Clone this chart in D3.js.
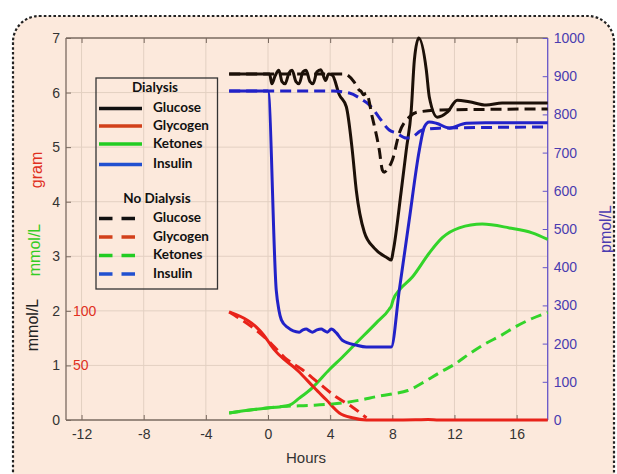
<!DOCTYPE html>
<html>
<head>
<meta charset="utf-8">
<script src="https://cdn.jsdelivr.net/npm/d3@7"></script>
<style>
  body { margin: 0; background: #fff; }
  svg { display: block; }
</style>
</head>
<body>
<svg id="chart" width="617" height="474"></svg>
<script>
// hours, value pairs
const glucoseDial = [[-2.5,6.34],[0.1,6.34],[0.25,6.16],[0.45,6.3],[0.7,6.41],[0.9,6.2],[1.1,6.16],[1.35,6.36],[1.55,6.41],[1.8,6.2],[2.0,6.16],[2.25,6.38],[2.45,6.41],[2.7,6.2],[2.9,6.16],[3.15,6.38],[3.4,6.42],[3.7,6.22],[3.9,6.34],[4.14,6.32],[4.59,5.96],[5.04,5.74],[5.42,4.95],[5.68,4.21],[6.2,3.44],[6.84,3.15],[7.68,2.97],[7.93,2.93],[8.06,3.1],[8.58,4.21],[8.9,4.95],[9.22,5.68],[9.42,6.6],[9.7,7.0],[10.19,6.41],[10.38,5.92],[10.9,5.55],[11.54,5.64],[12.18,5.86],[12.95,5.83],[14.04,5.77],[15.07,5.81],[18,5.81]]
const glucoseNoDial = [[-2.5,6.34],[4.9,6.34],[5.55,6.19],[5.85,6.05],[6.0,6.02],[6.15,5.96],[6.33,5.99],[6.71,5.55],[7.16,4.95],[7.36,4.58],[7.48,4.54],[7.7,4.6],[8.0,4.76],[8.45,5.26],[9.09,5.55],[9.6,5.64],[11.15,5.68],[18,5.7]]
// glycogen in grams
const glycogenDial = [[-2.5,99],[-0.05,73.5],[0.18,68.5],[2.01,44],[2.98,29.5],[3.75,18.5],[4.59,6.5],[5.42,2],[6.33,0],[9.5,0.2],[10.3,0.4],[11,0],[18,0]]
const glycogenNoDial = [[-2.5,99],[-0.05,73.5],[0.4,67],[1.05,57.5],[2.21,46],[3.17,35],[4.4,21],[5.42,12],[6.33,2]]
const ketoneDial = [[-2.5,0.13],[-0.05,0.22],[0.73,0.24],[1.37,0.27],[2.01,0.4],[2.85,0.59],[3.94,0.92],[4.78,1.15],[5.68,1.41],[6.97,1.78],[7.8,2.03],[7.95,2.1],[8.05,2.2],[8.45,2.38],[9.29,2.62],[10.38,3.06],[11.22,3.34],[12.31,3.52],[13.79,3.59],[15.53,3.52],[17.0,3.43],[18,3.31]]
const ketoneNoDial = [[-2.5,0.13],[-0.05,0.22],[1,0.25],[2,0.26],[3,0.27],[4,0.29],[5,0.32],[6,0.37],[7,0.43],[8,0.48],[9,0.54],[10,0.69],[11,0.86],[12,1.02],[13,1.22],[14,1.4],[15,1.55],[16,1.72],[17,1.86],[18,1.97]]
// insulin in pmol/L (right axis)
const insulinDial = [[-2.5,861],[0.0,861],[0.53,340],[0.7,288],[0.86,262],[1.24,243],[2.01,230],[2.25,236],[2.46,238],[2.65,234],[2.85,230],[3.15,236],[3.43,238],[3.62,234],[3.82,230],[4.07,238],[4.4,228],[4.78,209],[5.68,196],[6.33,191],[7.93,191],[8.45,340],[9.09,524],[9.74,707],[10.06,767],[10.38,780],[10.83,777],[11.67,764],[12.76,777],[14,778],[18,778]]
const insulinNoDial = [[-2.5,861],[4.2,861],[5.23,856],[6.07,838],[6.52,825],[7.1,795],[7.8,759],[8.26,751],[8.9,738],[9.29,741],[9.93,759],[11.02,764],[18,767]]

const xTicks = [-12,-8,-4,0,4,8,12,16]
const leftTicks = [0,1,2,3,4,5,6,7]
const rightTicks = [0,100,200,300,400,500,600,700,800,900,1000]
const gramTicks = [50,100]
const legendNames = ["Glucose","Glycogen","Ketones","Insulin"]
const legendColors = ["#111","#d2401a","#22cc22","#2150d0"]

const svg = d3.select("#chart")
const L = 66, R = 547.7, T = 38, B = 420
const font = "Liberation Sans, Arial, sans-serif"

let x = d3.scaleLinear().domain([-13, 18]).range([L, R])
let yL = d3.scaleLinear().domain([0, 7]).range([B, T])
let yG = d3.scaleLinear().domain([0, 350]).range([B, T])
let yR = d3.scaleLinear().domain([0, 1000]).range([B, T])

// background with dotted rounded border
svg.append("rect")
  .attr("x", 13).attr("y", 16).attr("width", 601).attr("height", 490)
  .attr("rx", 26).attr("ry", 26)
  .attr("fill", "#fce9dc")
  .attr("stroke", "#222").attr("stroke-width", 2.2)
  .attr("stroke-dasharray", "2.6,2.2")

// grid
let grid = svg.append("g").attr("stroke", "#e3d0c2").attr("stroke-width", 1)
grid.selectAll(".vg").data(xTicks).enter().append("line")
  .attr("x1", d => x(d)).attr("x2", d => x(d)).attr("y1", T).attr("y2", B)
grid.selectAll(".hg").data(leftTicks.slice(1, -1)).enter().append("line")
  .attr("x1", L).attr("x2", R).attr("y1", d => yL(d)).attr("y2", d => yL(d))

// axes
let axCol = "#7a6a60"
let plain = d => String(d)
let axB = svg.append("g").attr("transform", `translate(0,${B})`)
  .call(d3.axisBottom(x).tickValues(xTicks).tickSize(-5).tickPadding(9).tickFormat(plain))
let axT = svg.append("g").attr("transform", `translate(0,${T})`)
  .call(d3.axisTop(x).tickValues(xTicks).tickSize(-5).tickFormat(""))
let axL = svg.append("g").attr("transform", `translate(${L},0)`)
  .call(d3.axisLeft(yL).tickValues(leftTicks).tickSize(-5).tickPadding(6).tickFormat(plain))
let axR = svg.append("g").attr("transform", `translate(${R},0)`)
  .call(d3.axisRight(yR).tickValues(rightTicks).tickSize(-5).tickPadding(6).tickFormat(plain))

;[axB, axT, axL].forEach(a => {
  a.attr("font-family", font).attr("font-size", 14)
  a.select(".domain").attr("stroke", axCol).attr("stroke-width", 1.3)
  a.selectAll(".tick line").attr("stroke", axCol)
  a.selectAll("text").attr("fill", "#333")
})
axR.attr("font-family", font).attr("font-size", 14)
axR.select(".domain").attr("stroke", "#6656c8").attr("stroke-width", 1.3)
axR.selectAll(".tick line").attr("stroke", "#6656c8")
axR.selectAll("text").attr("fill", "#4a3cb0")
axB.selectAll(".domain").attr("d", `M${L},0H${R}`)
axT.selectAll(".domain").attr("d", `M${L},0H${R}`)
axL.selectAll(".domain").attr("d", `M0,${B}V${T}`)
axR.selectAll(".domain").attr("d", `M0,${B}V${T}`)

// gram labels inside the plot
svg.selectAll(".gram").data(gramTicks).enter().append("text")
  .attr("x", L + 7).attr("y", d => yG(d)).attr("dy", "0.35em")
  .attr("fill", "#e0301e").attr("font-family", font).attr("font-size", 14)
  .text(d => d)

// axis titles
function vlabel(txt, cx, cy, col) {
  svg.append("text").attr("transform", `translate(${cx},${cy}) rotate(-90)`)
    .attr("text-anchor", "middle").attr("dy", "0.35em")
    .attr("fill", col).attr("font-family", font).attr("font-size", 16)
    .text(txt)
}
vlabel("gram", 36, 170, "#e0301e")
vlabel("mmol/L", 34, 250, "#33cc22")
vlabel("mmol/L", 32, 325, "#222")
vlabel("pmol/L", 605, 229, "#4a3cb0")
svg.append("text").attr("x", 306).attr("y", 463).attr("text-anchor", "middle")
  .attr("fill", "#333").attr("font-family", font).attr("font-size", 15)
  .text("Hours")

// series
let lineL = d3.line().x(d => x(d[0])).y(d => yL(d[1])).curve(d3.curveMonotoneX)
let lineG = d3.line().x(d => x(d[0])).y(d => yG(d[1])).curve(d3.curveMonotoneX)
let lineR = d3.line().x(d => x(d[0])).y(d => yR(d[1])).curve(d3.curveMonotoneX)

let series = [
  {d: ketoneDial, f: lineL, c: "#33d42a", dash: null},
  {d: glycogenDial, f: lineG, c: "#e8231a", dash: null},
  {d: insulinDial, f: lineR, c: "#2222c8", dash: null},
  {d: glucoseDial, f: lineL, c: "#1c1008", dash: null},
  {d: ketoneNoDial, f: lineL, c: "#33d42a", dash: "11,6"},
  {d: glycogenNoDial, f: lineG, c: "#e8231a", dash: "11,6"},
  {d: insulinNoDial, f: lineR, c: "#2222c8", dash: "11,6"},
  {d: glucoseNoDial, f: lineL, c: "#1c1008", dash: "11,6"}
]
svg.append("g").selectAll("path").data(series).enter().append("path")
  .attr("d", s => s.f(s.d))
  .attr("fill", "none")
  .attr("stroke", s => s.c)
  .attr("stroke-width", 3)
  .attr("stroke-dasharray", s => s.dash)

// legend
let lg = svg.append("g").attr("font-family", "Lato, sans-serif").attr("font-weight", "bold").attr("font-size", 13.5).attr("fill", "#111")
lg.append("rect").attr("x", 96).attr("y", 78).attr("width", 121.5).attr("height", 211)
  .attr("fill", "none").attr("stroke", "#333").attr("stroke-width", 1.3)
lg.append("text").attr("x", 155).attr("y", 87).attr("dy", "0.35em").attr("text-anchor", "middle").text("Dialysis")
lg.append("text").attr("x", 157).attr("y", 198).attr("dy", "0.35em").attr("text-anchor", "middle").text("No Dialysis")
let rowsSolid = [108.5, 126, 144, 164.5]
let rowsDash = [218.5, 237, 255.5, 274]
legendNames.forEach((n, i) => {
  lg.append("line").attr("x1", 99).attr("x2", 142).attr("y1", rowsSolid[i]).attr("y2", rowsSolid[i])
    .attr("stroke", legendColors[i]).attr("stroke-width", 3.5)
  lg.append("text").attr("x", 153).attr("y", rowsSolid[i] - 1).attr("dy", "0.35em").text(n)
  lg.append("line").attr("x1", 99).attr("x2", 136).attr("y1", rowsDash[i]).attr("y2", rowsDash[i])
    .attr("stroke", legendColors[i]).attr("stroke-width", 3.5).attr("stroke-dasharray", "13.5,9")
  lg.append("text").attr("x", 153).attr("y", rowsDash[i] - 1).attr("dy", "0.35em").text(n)
})
</script>
</body>
</html>
